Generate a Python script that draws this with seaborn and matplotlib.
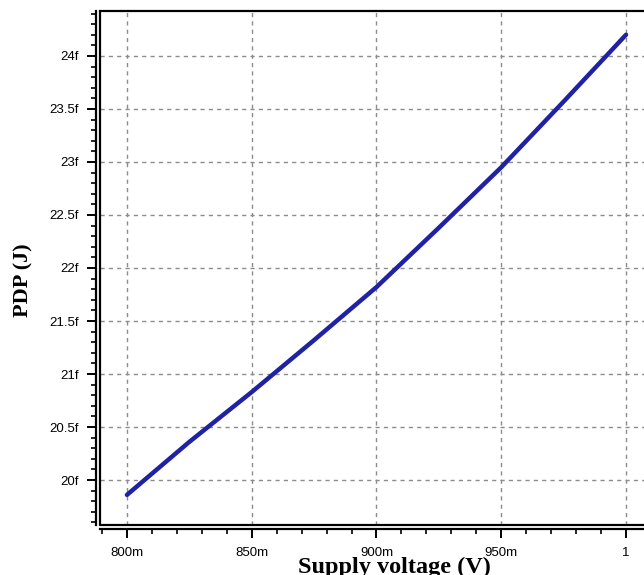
import matplotlib
matplotlib.use("Agg")
import matplotlib.pyplot as plt
import seaborn as sns
import pandas as pd
import numpy as np
from matplotlib.ticker import FixedLocator, MultipleLocator

# Data (supply voltage in V, PDP in fJ)
supply_v = [0.800, 0.825, 0.850, 0.875, 0.900, 0.925, 0.950, 0.975, 1.000]
pdp_fj = [19.86, 20.36, 20.83, 21.32, 21.82, 22.38, 22.95, 23.57, 24.20]

x_ticks = [0.80, 0.85, 0.90, 0.95, 1.00]
x_tick_labels = ["800m", "850m", "900m", "950m", "1"]
y_ticks = [20.0, 20.5, 21.0, 21.5, 22.0, 22.5, 23.0, 23.5, 24.0]
y_tick_labels = ["20f", "20.5f", "21f", "21.5f", "22f", "22.5f", "23f", "23.5f", "24f"]

df = pd.DataFrame({"Supply voltage (V)": supply_v, "PDP (J)": pdp_fj})

sns.set_style("white")
plt.rcParams["font.family"] = ["Liberation Sans", "DejaVu Sans"]
plt.rcParams["text.color"] = "black"
plt.rcParams["axes.labelcolor"] = "black"
plt.rcParams["xtick.color"] = "black"
plt.rcParams["ytick.color"] = "black"

fig = plt.figure(figsize=(6.44, 5.75), dpi=100)
ax = fig.add_axes([100/644, 1 - 525/575, 1.0 - 100/644, (525 - 11)/575])

sns.lineplot(data=df, x="Supply voltage (V)", y="PDP (J)", ax=ax,
             color="#1f22a3", linewidth=3.2, solid_capstyle="round", zorder=5)

ax.set_xlim(0.7892, 1.0072)
ax.set_ylim(19.576, 24.424)

ax.xaxis.set_major_locator(FixedLocator(x_ticks))
ax.set_xticklabels(x_tick_labels)
ax.xaxis.set_minor_locator(MultipleLocator(0.01))
ax.yaxis.set_major_locator(FixedLocator(y_ticks))
ax.set_yticklabels(y_tick_labels)
ax.yaxis.set_minor_locator(MultipleLocator(0.1))

ax.grid(True, which="major", linestyle=(0, (3, 3)), color="#8c8c8c", linewidth=1.0)

for s in ["left", "bottom"]:
    ax.spines[s].set_position(("outward", 3))
    ax.spines[s].set_linewidth(1.6)
    ax.spines[s].set_color("black")
ax.spines["right"].set_visible(False)
ax.spines["top"].set_linewidth(1.6)
ax.spines["top"].set_color("black")

# inner frame lines (double-line look)
ax.plot([0, 0], [0, 1], transform=ax.transAxes, color="black", lw=1.6, clip_on=False, zorder=6)
ax.plot([0, 1], [0, 0], transform=ax.transAxes, color="black", lw=1.6, clip_on=False, zorder=6)

ax.tick_params(axis="both", which="major", direction="out", length=6.5, width=1.4,
               color="black", labelcolor="black", labelsize=9.5, pad=6, left=True, bottom=True)
ax.tick_params(axis="both", which="minor", direction="out", length=3.5, width=1.2,
               color="black", left=True, bottom=True)

ax.set_xlabel("Supply voltage (V)", fontfamily="Liberation Serif", fontweight="bold",
              fontsize=17.5, va="top", color="black")
ax.xaxis.set_label_coords(394/644, 1 - 557/575, transform=fig.transFigure)
ax.set_ylabel("PDP (J)", fontfamily="Liberation Serif", fontweight="bold",
              fontsize=16, va="center", color="black")
ax.yaxis.set_label_coords(23/644, 1 - 280/575, transform=fig.transFigure)

fig.savefig("out.png", dpi=100)
